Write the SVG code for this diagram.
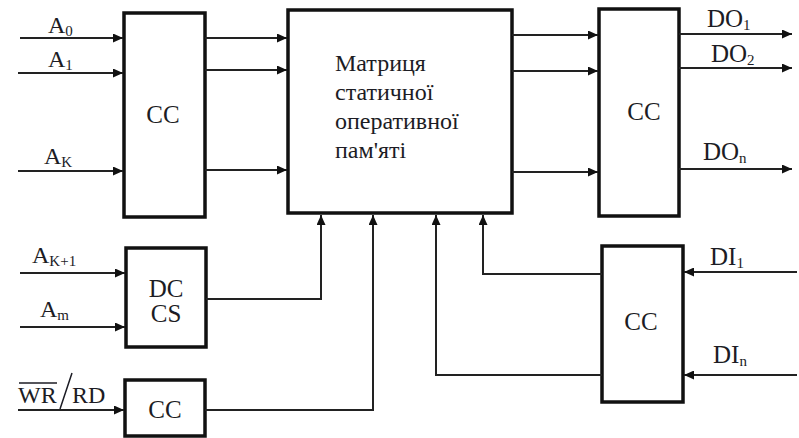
<svg xmlns="http://www.w3.org/2000/svg" width="799" height="438" viewBox="0 0 799 438">
<style>
.box{fill:#fff;stroke:#111;stroke-width:3.5}
.ln{fill:none;stroke:#222;stroke-width:2;marker-end:url(#ah)}
.t{font-family:'Liberation Serif','Times New Roman',serif;font-size:24px;fill:#1c1c24}
.b{font-size:25px}
.c{text-anchor:middle}
.s{font-size:15px}
.ov{stroke:#1c1c24;stroke-width:1.5}
</style>
<defs>
<marker id="ah" markerUnits="userSpaceOnUse" markerWidth="10" markerHeight="9" refX="10" refY="4.5" orient="auto">
<path d="M0,0 L10,4.5 L0,9 z" fill="#111"/>
</marker>
</defs>
<rect width="799" height="438" fill="#fff"/>
<g id="cc-left"><rect class="box" x="124" y="13" width="81" height="204"/><text class="t b c" x="163" y="123">CC</text></g>
<g id="matrix"><rect class="box" x="288" y="10" width="224" height="203"/>
<text class="t" x="335" y="71">Матриця</text>
<text class="t" x="335" y="100">статичної</text>
<text class="t" x="335" y="129">оперативної</text>
<text class="t" x="335" y="158">пам'яті</text></g>
<g id="cc-right"><rect class="box" x="599" y="9" width="80" height="207"/><text class="t b c" x="644" y="120">CC</text></g>
<g id="dc-cs"><rect class="box" x="126" y="248" width="80" height="99"/><text class="t b c" x="166" y="297">DC</text><text class="t b c" x="166" y="322">CS</text></g>
<g id="cc-wr"><rect class="box" x="125" y="380" width="80" height="56"/><text class="t b c" x="165" y="418">CC</text></g>
<g id="cc-di"><rect class="box" x="602" y="246" width="81" height="156"/><text class="t b c" x="641" y="330">CC</text></g>
<g id="connectors">
<path class="ln" d="M20,38 H123"/>
<path class="ln" d="M18,73 H123"/>
<path class="ln" d="M18,171 H123"/>
<path class="ln" d="M205,38 H287"/>
<path class="ln" d="M205,70 H287"/>
<path class="ln" d="M205,170 H287"/>
<path class="ln" d="M512,35 H598"/>
<path class="ln" d="M512,71 H598"/>
<path class="ln" d="M512,172 H598"/>
<path class="ln" d="M679,34 H792"/>
<path class="ln" d="M679,68 H792"/>
<path class="ln" d="M679,169 H792"/>
<path class="ln" d="M20,273 H125"/>
<path class="ln" d="M20,327 H125"/>
<path class="ln" d="M206,299 H321 V215"/>
<path class="ln" d="M18,410 H124"/>
<path class="ln" d="M205,410 H373 V215"/>
<path class="ln" d="M602,274 H483 V215"/>
<path class="ln" d="M602,375 H436 V215"/>
<path class="ln" d="M797,272 H684"/>
<path class="ln" d="M797,375 H684"/>
</g>
<g id="labels">
<text class="t" x="48" y="33">A<tspan class="s" dy="3">0</tspan></text>
<text class="t" x="48" y="67">A<tspan class="s" dy="3">1</tspan></text>
<text class="t" x="44" y="164">A<tspan class="s" dy="3">K</tspan></text>
<text class="t" x="32" y="263">A<tspan class="s" dy="3">K+1</tspan></text>
<text class="t" x="40" y="317">A<tspan class="s" dy="3">m</tspan></text>
<text class="t b" x="707" y="27">DO<tspan class="s" dy="3">1</tspan></text>
<text class="t b" x="711" y="62">DO<tspan class="s" dy="3">2</tspan></text>
<text class="t b" x="703" y="160">DO<tspan class="s" dy="3">n</tspan></text>
<text class="t b" x="710" y="265">DI<tspan class="s" dy="3">1</tspan></text>
<text class="t b" x="713" y="363">DI<tspan class="s" dy="3">n</tspan></text>
<text class="t" x="18" y="403">WR</text>
<line class="ov" x1="19" y1="383" x2="57" y2="383"/>
<line class="ov" x1="60" y1="409" x2="72" y2="373"/>
<text class="t" x="72" y="403">RD</text>
</g>
</svg>
